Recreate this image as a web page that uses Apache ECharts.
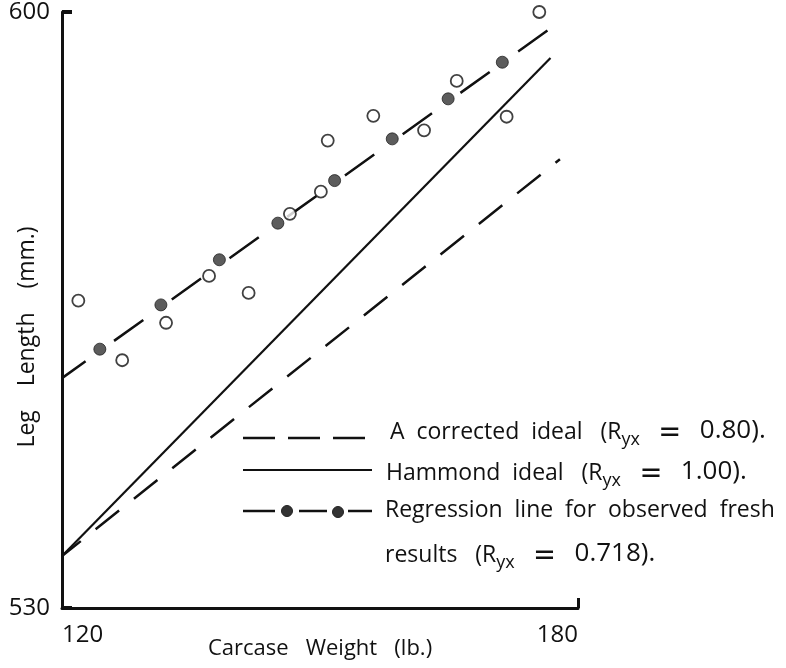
<!DOCTYPE html>
<html>
<head>
<meta charset="utf-8">
<script src="https://cdn.jsdelivr.net/npm/echarts@6/dist/echarts.min.js"></script>
<style>
html,body{margin:0;padding:0;background:#fff;}
#chart{width:786px;height:668px;}
</style>
</head>
<body>
<div id="chart"></div>
<script>
// ---- data ----
var xTicks = [120, 180];
var yTicks = [530, 600];
// open circles: observed fresh results (weight lb, leg length mm)
var observedX = [121.9, 127.0, 132.1, 137.1, 141.7, 146.5, 150.1, 150.9, 156.2, 162.1, 165.9, 171.7, 175.5];
var observedY = [566.1, 559.1, 563.5, 569.0, 567.0, 576.3, 578.9, 584.9, 587.8, 586.1, 591.9, 587.7, 600.0];
// filled dots on the regression line
var regDotsX = [124.4, 131.5, 138.3, 145.1, 151.7, 158.4, 164.9, 171.2];
var regDotsY = [560.4, 565.6, 570.9, 575.2, 580.2, 585.1, 589.8, 594.1];
// line end points
var regLineX = [120, 176.7];
var regLineY = [557.0, 598.0];
var hammondX = [120, 176.8];
var hammondY = [536.1, 594.6];
var correctedX = [120, 177.9];
var correctedY = [536.1, 582.7];

var legendLabels = [
  '{t|A  corrected  ideal   (R}{s|yx}{t|   }{e|＝}{t|   }{n|0.80).}',
  '{t|Hammond  ideal   (R}{s|yx}{t|   }{e|＝}{t|   }{n|1.00).}',
  '{t|Regression  line  for  observed  fresh}',
  '{t|results   (R}{s|yx}{t|   }{e|＝}{t|   }{n|0.718).}'
];

function zip(a, b) { return a.map(function (v, i) { return [v, b[i]]; }); }

var FONT = 'Open Sans';
var INK = '#111';

var chart = echarts.init(document.getElementById('chart'), null, {renderer: 'canvas'});

var richStyles = {
  t: {fontFamily: FONT, fontSize: 23, color: INK, lineHeight: 26, verticalAlign: 'bottom'},
  n: {fontFamily: FONT, fontSize: 26, color: INK, lineHeight: 26, verticalAlign: 'bottom'},
  e: {fontFamily: 'Noto Sans CJK JP', fontWeight: 'bold', fontSize: 24, color: INK, lineHeight: 26, verticalAlign: 'bottom'},
  s: {fontFamily: FONT, fontSize: 18, color: INK, lineHeight: 18, verticalAlign: 'bottom', padding: [0, 0, -5, 0]}
};

var legendRows = [
  {top: 418, text: legendLabels[0], x: 390},
  {top: 459, text: legendLabels[1], x: 386},
  {top: 499, text: legendLabels[2], x: 385},
  {top: 541, text: legendLabels[3], x: 385}
];

var graphics = legendRows.map(function (r) {
  return {
    type: 'text', left: r.x, top: r.top,
    style: {text: r.text, rich: richStyles, fill: INK}
  };
});
// legend samples
graphics.push({type: 'line', shape: {x1: 243, y1: 438, x2: 366, y2: 438},
  style: {stroke: INK, lineWidth: 2.5, lineDash: [32, 13]}});
graphics.push({type: 'line', shape: {x1: 243, y1: 470, x2: 372, y2: 470},
  style: {stroke: INK, lineWidth: 2.2}});
graphics.push({type: 'line', shape: {x1: 243, y1: 511, x2: 275, y2: 511}, style: {stroke: INK, lineWidth: 2.5}});
graphics.push({type: 'line', shape: {x1: 299, y1: 511, x2: 327, y2: 511}, style: {stroke: INK, lineWidth: 2.5}});
graphics.push({type: 'line', shape: {x1: 348, y1: 511, x2: 372, y2: 511}, style: {stroke: INK, lineWidth: 2.5}});
graphics.push({type: 'circle', shape: {cx: 287, cy: 511, r: 5.5}, style: {fill: '#333', stroke: '#222', lineWidth: 1}});
graphics.push({type: 'circle', shape: {cx: 338, cy: 512, r: 5.5}, style: {fill: '#333', stroke: '#222', lineWidth: 1}});

chart.setOption({
  backgroundColor: '#fff',
  animation: false,
  grid: {left: 62, right: 208, top: 12, bottom: 60, containLabel: false, outerBoundsMode: 'none'},
  xAxis: {
    type: 'value', min: xTicks[0], max: xTicks[1], interval: xTicks[1] - xTicks[0],
    name: 'Carcase   Weight   (lb.)', nameLocation: 'middle', nameGap: 30, nameMoveOverlap: false,
    nameTextStyle: {fontFamily: FONT, fontSize: 22, color: INK},
    axisLine: {show: true, onZero: false, lineStyle: {color: INK, width: 3}},
    axisTick: {show: true, inside: true, length: 10, lineStyle: {color: INK, width: 3}},
    axisLabel: {fontFamily: FONT, fontSize: 24, color: INK, margin: 15,
      alignMinLabel: 'left', alignMaxLabel: 'right'},
    splitLine: {show: false}
  },
  yAxis: {
    type: 'value', min: yTicks[0], max: yTicks[1], interval: yTicks[1] - yTicks[0],
    name: 'Leg    Length    (mm.)', nameLocation: 'middle', nameGap: 23, nameMoveOverlap: false,
    nameTextStyle: {fontFamily: FONT, fontSize: 23, color: INK, padding: [0, 54, 0, 0]},
    axisLine: {show: true, onZero: false, lineStyle: {color: INK, width: 3}},
    axisTick: {show: true, inside: true, length: 10, lineStyle: {color: INK, width: 4}},
    axisLabel: {fontFamily: FONT, fontSize: 24, color: INK, margin: 12},
    splitLine: {show: false}
  },
  graphic: graphics,
  series: [
    {
      name: 'A corrected ideal', type: 'line', data: zip(correctedX, correctedY),
      symbol: 'none', lineStyle: {color: INK, width: 2.5, type: [30, 19], dashOffset: 6}, z: 2
    },
    {
      name: 'Hammond ideal', type: 'line', data: zip(hammondX, hammondY),
      symbol: 'none', lineStyle: {color: INK, width: 2.2, type: 'solid'}, z: 2
    },
    {
      name: 'Regression line', type: 'line', data: zip(regLineX, regLineY),
      symbol: 'none', lineStyle: {color: INK, width: 2.5, type: [36, 35], dashOffset: 7}, z: 2
    },
    {
      name: 'Regression points', type: 'scatter', data: zip(regDotsX, regDotsY),
      symbol: 'circle', symbolSize: 12, itemStyle: {color: '#333', borderColor: '#222', borderWidth: 1}, z: 3
    },
    {
      name: 'Observed', type: 'scatter', data: zip(observedX, observedY),
      symbol: 'circle', symbolSize: 12, itemStyle: {color: '#fff', borderColor: INK, borderWidth: 1.8}, z: 3
    }
  ]
});
</script>
</body>
</html>
